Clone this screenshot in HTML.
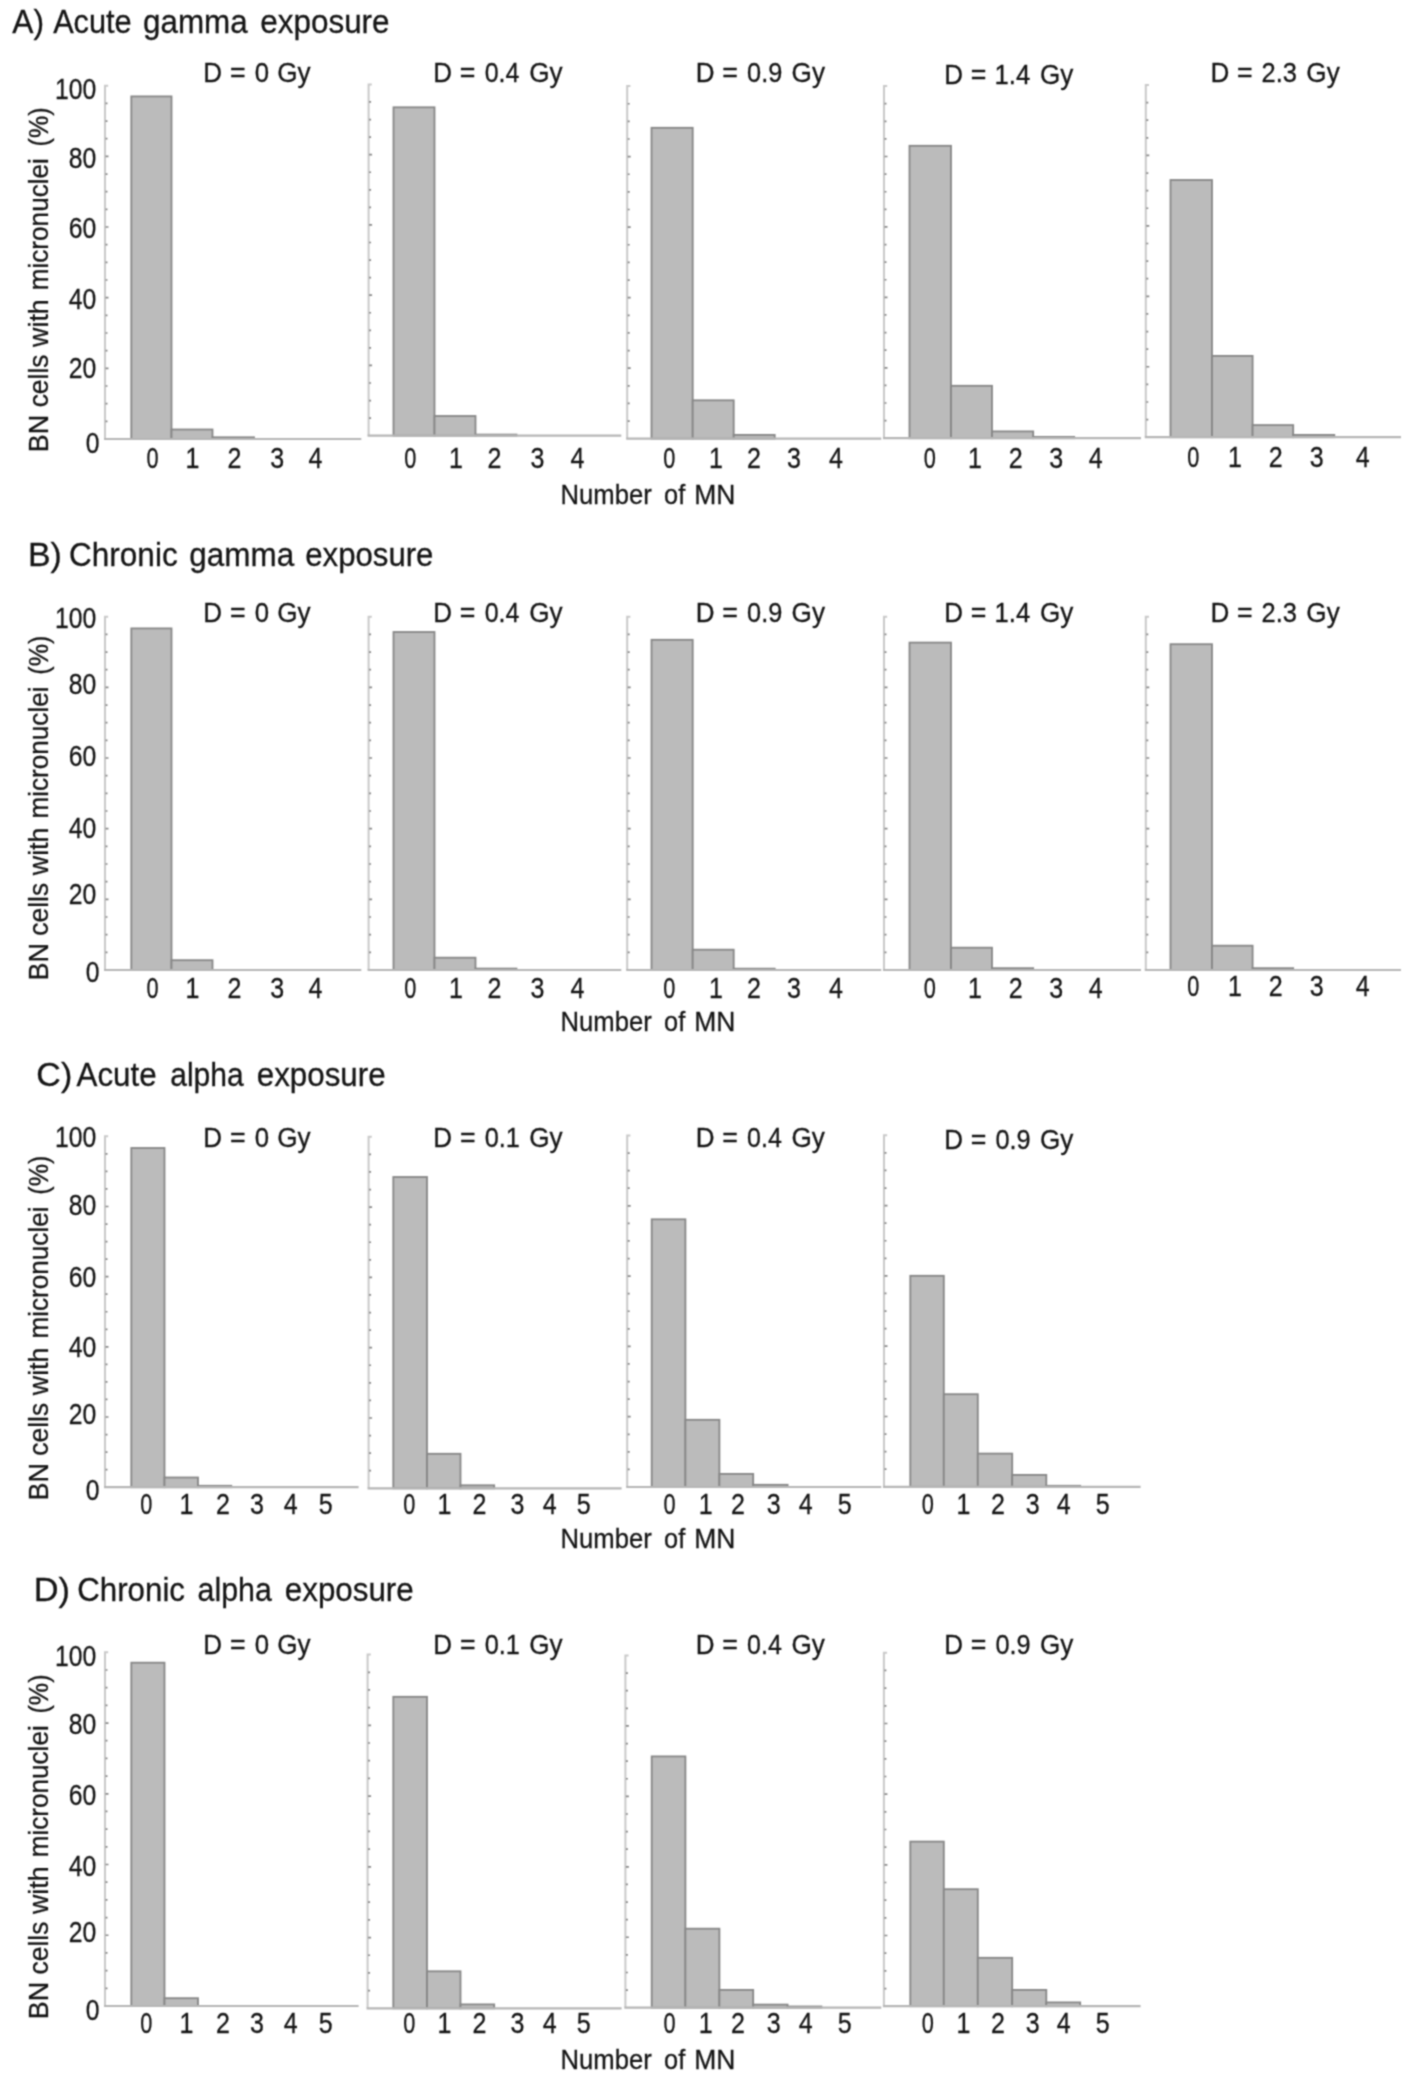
<!DOCTYPE html>
<html><head><meta charset="utf-8"><title>Micronuclei distributions</title>
<style>html,body{margin:0;padding:0;background:#fff}svg{display:block}text{font-family:"Liberation Sans", Arial, Helvetica, sans-serif;fill:#141414;stroke:#141414;stroke-width:0.3px}</style>
</head><body>
<svg width="1417" height="2080" viewBox="0 0 1417 2080">
<defs><filter id="soft" x="0" y="0" width="100%" height="100%" filterUnits="objectBoundingBox" color-interpolation-filters="sRGB"><feConvolveMatrix order="3" kernelMatrix="1 2 1 2 6 2 1 2 1" divisor="18" edgeMode="duplicate" preserveAlpha="true"/></filter></defs>
<g filter="url(#soft)">
<rect width="1417" height="2080" fill="#fff"/>
<text transform="translate(0 33.3) scale(0.9475 1)" font-size="33"><tspan x="12.91" textLength="33.49" lengthAdjust="spacingAndGlyphs">A)</tspan> <tspan x="56.08" textLength="82.88" lengthAdjust="spacingAndGlyphs">Acute</tspan> <tspan x="150.91" textLength="110.52" lengthAdjust="spacingAndGlyphs">gamma</tspan> <tspan x="274.8" textLength="136.29" lengthAdjust="spacingAndGlyphs">exposure</tspan></text>
<text transform="translate(54.95 98.7) scale(0.8200 1)" font-size="30.2">100</text>
<text transform="translate(68.72 167.6) scale(0.8200 1)" font-size="30.2">80</text>
<text transform="translate(68.72 238.3) scale(0.8200 1)" font-size="30.2">60</text>
<text transform="translate(68.72 308.7) scale(0.8200 1)" font-size="30.2">40</text>
<text transform="translate(68.72 377.5) scale(0.8200 1)" font-size="30.2">20</text>
<text transform="translate(85.79 452.6) scale(0.8200 1)" font-size="30.2">0</text>
<text transform="translate(48 450) rotate(-90) scale(0.9232 1)" font-size="28.4"><tspan x="-2.39" textLength="40.51" lengthAdjust="spacingAndGlyphs">BN</tspan> <tspan x="46.23" textLength="57.16" lengthAdjust="spacingAndGlyphs">cells</tspan> <tspan x="111.72" textLength="51.55" lengthAdjust="spacingAndGlyphs">with</tspan> <tspan x="173.05" textLength="143.08" lengthAdjust="spacingAndGlyphs">micronuclei</tspan> <tspan x="328.89" textLength="42.25" lengthAdjust="spacingAndGlyphs">(%)</tspan></text>
<rect x="131.3" y="96.4" width="40.2" height="342.6" fill="#bbbbbb" stroke="#878787" stroke-width="1.8"/>
<rect x="171.5" y="429.5" width="41" height="9.5" fill="#bbbbbb" stroke="#878787" stroke-width="1.8"/>
<rect x="212.5" y="437.3" width="41.5" height="1.7" fill="#bbbbbb" stroke="#878787" stroke-width="1.8"/>
<path d="M108.2 85.7H105V439" fill="none" stroke="#c9c9c9" stroke-width="2"/>
<path d="M104 439H361.3" fill="none" stroke="#b6b6b6" stroke-width="2.2"/>
<path d="M105.5 421.33h2.0M105.5 403.67h2.0M105.5 386h2.0M105.5 368.34h3.0M105.5 350.68h2.0M105.5 333.01h2.0M105.5 315.35h2.0M105.5 297.68h3.0M105.5 280.01h2.0M105.5 262.35h2.0M105.5 244.69h2.0M105.5 227.02h3.0M105.5 209.36h2.0M105.5 191.69h2.0M105.5 174.03h2.0M105.5 156.36h3.0M105.5 138.69h2.0M105.5 121.03h2.0M105.5 103.37h2.0" fill="none" stroke="#8a8a8a" stroke-width="1.7"/>
<text transform="translate(0 82.4) scale(0.9470 1)" font-size="27.6"><tspan x="214.75" textLength="19.83" lengthAdjust="spacingAndGlyphs">D</tspan> <tspan x="242.76" textLength="16.5" lengthAdjust="spacingAndGlyphs">=</tspan> <tspan x="268.94" textLength="15.11" lengthAdjust="spacingAndGlyphs">0</tspan> <tspan x="292.8" textLength="35.23" lengthAdjust="spacingAndGlyphs">Gy</tspan></text>
<text transform="translate(152.5 467.8) scale(0.7351 1)" font-size="29.6" text-anchor="middle">0</text>
<text transform="translate(192.4 467.8) scale(0.8450 1)" font-size="29.6" text-anchor="middle">1</text>
<text transform="translate(234.5 467.8) scale(0.8450 1)" font-size="29.6" text-anchor="middle">2</text>
<text transform="translate(277.2 467.8) scale(0.8450 1)" font-size="29.6" text-anchor="middle">3</text>
<text transform="translate(315.5 467.8) scale(0.8450 1)" font-size="29.6" text-anchor="middle">4</text>
<rect x="393.5" y="107.3" width="41" height="328.4" fill="#bbbbbb" stroke="#878787" stroke-width="1.8"/>
<rect x="434.5" y="416" width="41" height="19.7" fill="#bbbbbb" stroke="#878787" stroke-width="1.8"/>
<rect x="475.5" y="434.6" width="41" height="1.1" fill="#bbbbbb" stroke="#878787" stroke-width="1.8"/>
<path d="M371.8 84.4H368.6V435.7" fill="none" stroke="#c9c9c9" stroke-width="2"/>
<path d="M367.6 435.7H621.3" fill="none" stroke="#b6b6b6" stroke-width="2.2"/>
<path d="M369.1 418.13h2.0M369.1 400.57h2.0M369.1 383h2.0M369.1 365.44h3.0M369.1 347.88h2.0M369.1 330.31h2.0M369.1 312.75h2.0M369.1 295.18h3.0M369.1 277.62h2.0M369.1 260.05h2.0M369.1 242.49h2.0M369.1 224.92h3.0M369.1 207.36h2.0M369.1 189.79h2.0M369.1 172.23h2.0M369.1 154.66h3.0M369.1 137.1h2.0M369.1 119.53h2.0M369.1 101.97h2.0" fill="none" stroke="#8a8a8a" stroke-width="1.7"/>
<text transform="translate(0 82.4) scale(0.9342 1)" font-size="27.6"><tspan x="463.87" textLength="20.1" lengthAdjust="spacingAndGlyphs">D</tspan> <tspan x="492.26" textLength="16.72" lengthAdjust="spacingAndGlyphs">=</tspan> <tspan x="518.84" textLength="37.15" lengthAdjust="spacingAndGlyphs">0.4</tspan> <tspan x="566.43" textLength="35.71" lengthAdjust="spacingAndGlyphs">Gy</tspan></text>
<text transform="translate(410.4 467.8) scale(0.7351 1)" font-size="29.6" text-anchor="middle">0</text>
<text transform="translate(456 467.8) scale(0.8450 1)" font-size="29.6" text-anchor="middle">1</text>
<text transform="translate(494.5 467.8) scale(0.8450 1)" font-size="29.6" text-anchor="middle">2</text>
<text transform="translate(537.5 467.8) scale(0.8450 1)" font-size="29.6" text-anchor="middle">3</text>
<text transform="translate(577.5 467.8) scale(0.8450 1)" font-size="29.6" text-anchor="middle">4</text>
<rect x="651.5" y="127.8" width="41.2" height="310.9" fill="#bbbbbb" stroke="#878787" stroke-width="1.8"/>
<rect x="692.7" y="400.3" width="41" height="38.4" fill="#bbbbbb" stroke="#878787" stroke-width="1.8"/>
<rect x="733.7" y="434.9" width="41" height="3.8" fill="#bbbbbb" stroke="#878787" stroke-width="1.8"/>
<path d="M630.4 86.1H627.2V438.7" fill="none" stroke="#c9c9c9" stroke-width="2"/>
<path d="M626.2 438.7H881.3" fill="none" stroke="#b6b6b6" stroke-width="2.2"/>
<path d="M627.7 421.07h2.0M627.7 403.44h2.0M627.7 385.81h2.0M627.7 368.18h3.0M627.7 350.55h2.0M627.7 332.92h2.0M627.7 315.29h2.0M627.7 297.66h3.0M627.7 280.03h2.0M627.7 262.4h2.0M627.7 244.77h2.0M627.7 227.14h3.0M627.7 209.51h2.0M627.7 191.88h2.0M627.7 174.25h2.0M627.7 156.62h3.0M627.7 138.99h2.0M627.7 121.36h2.0M627.7 103.73h2.0" fill="none" stroke="#8a8a8a" stroke-width="1.7"/>
<text transform="translate(0 82.4) scale(0.9386 1)" font-size="27.6"><tspan x="741.27" textLength="20.01" lengthAdjust="spacingAndGlyphs">D</tspan> <tspan x="769.53" textLength="16.65" lengthAdjust="spacingAndGlyphs">=</tspan> <tspan x="795.97" textLength="37.49" lengthAdjust="spacingAndGlyphs">0.9</tspan> <tspan x="843.36" textLength="35.54" lengthAdjust="spacingAndGlyphs">Gy</tspan></text>
<text transform="translate(669.4 467.8) scale(0.7351 1)" font-size="29.6" text-anchor="middle">0</text>
<text transform="translate(716 467.8) scale(0.8450 1)" font-size="29.6" text-anchor="middle">1</text>
<text transform="translate(754 467.8) scale(0.8450 1)" font-size="29.6" text-anchor="middle">2</text>
<text transform="translate(794 467.8) scale(0.8450 1)" font-size="29.6" text-anchor="middle">3</text>
<text transform="translate(836 467.8) scale(0.8450 1)" font-size="29.6" text-anchor="middle">4</text>
<rect x="909.5" y="145.8" width="41.5" height="292.4" fill="#bbbbbb" stroke="#878787" stroke-width="1.8"/>
<rect x="951" y="385.8" width="41" height="52.4" fill="#bbbbbb" stroke="#878787" stroke-width="1.8"/>
<rect x="992" y="431.4" width="41.2" height="6.8" fill="#bbbbbb" stroke="#878787" stroke-width="1.8"/>
<rect x="1033.2" y="436.9" width="41" height="1.3" fill="#bbbbbb" stroke="#878787" stroke-width="1.8"/>
<path d="M887.2 86.1H884V438.2" fill="none" stroke="#c9c9c9" stroke-width="2"/>
<path d="M883 438.2H1141" fill="none" stroke="#b6b6b6" stroke-width="2.2"/>
<path d="M884.5 420.59h2.0M884.5 402.99h2.0M884.5 385.38h2.0M884.5 367.78h3.0M884.5 350.17h2.0M884.5 332.57h2.0M884.5 314.96h2.0M884.5 297.36h3.0M884.5 279.75h2.0M884.5 262.15h2.0M884.5 244.54h2.0M884.5 226.94h3.0M884.5 209.33h2.0M884.5 191.73h2.0M884.5 174.12h2.0M884.5 156.52h3.0M884.5 138.91h2.0M884.5 121.31h2.0M884.5 103.7h2.0" fill="none" stroke="#8a8a8a" stroke-width="1.7"/>
<text transform="translate(0 84.3) scale(0.9434 1)" font-size="27.6"><tspan x="1000.83" textLength="19.9" lengthAdjust="spacingAndGlyphs">D</tspan> <tspan x="1028.95" textLength="16.56" lengthAdjust="spacingAndGlyphs">=</tspan> <tspan x="1054.23" textLength="37.85" lengthAdjust="spacingAndGlyphs">1.4</tspan> <tspan x="1102.4" textLength="35.37" lengthAdjust="spacingAndGlyphs">Gy</tspan></text>
<text transform="translate(929.8 467.8) scale(0.7351 1)" font-size="29.6" text-anchor="middle">0</text>
<text transform="translate(975 467.8) scale(0.8450 1)" font-size="29.6" text-anchor="middle">1</text>
<text transform="translate(1015.6 467.8) scale(0.8450 1)" font-size="29.6" text-anchor="middle">2</text>
<text transform="translate(1056.2 467.8) scale(0.8450 1)" font-size="29.6" text-anchor="middle">3</text>
<text transform="translate(1095.8 467.8) scale(0.8450 1)" font-size="29.6" text-anchor="middle">4</text>
<rect x="1170.5" y="180" width="41.5" height="257.2" fill="#bbbbbb" stroke="#878787" stroke-width="1.8"/>
<rect x="1212" y="355.9" width="40.6" height="81.3" fill="#bbbbbb" stroke="#878787" stroke-width="1.8"/>
<rect x="1252.6" y="425.1" width="40.6" height="12.1" fill="#bbbbbb" stroke="#878787" stroke-width="1.8"/>
<rect x="1293.2" y="434.9" width="41.1" height="2.3" fill="#bbbbbb" stroke="#878787" stroke-width="1.8"/>
<path d="M1149 85H1145.8V437.2" fill="none" stroke="#c9c9c9" stroke-width="2"/>
<path d="M1144.8 437.2H1401" fill="none" stroke="#b6b6b6" stroke-width="2.2"/>
<path d="M1146.3 419.59h2.0M1146.3 401.98h2.0M1146.3 384.37h2.0M1146.3 366.76h3.0M1146.3 349.15h2.0M1146.3 331.54h2.0M1146.3 313.93h2.0M1146.3 296.32h3.0M1146.3 278.71h2.0M1146.3 261.1h2.0M1146.3 243.49h2.0M1146.3 225.88h3.0M1146.3 208.27h2.0M1146.3 190.66h2.0M1146.3 173.05h2.0M1146.3 155.44h3.0M1146.3 137.83h2.0M1146.3 120.22h2.0M1146.3 102.61h2.0" fill="none" stroke="#8a8a8a" stroke-width="1.7"/>
<text transform="translate(0 82.4) scale(0.9405 1)" font-size="27.6"><tspan x="1287.09" textLength="19.96" lengthAdjust="spacingAndGlyphs">D</tspan> <tspan x="1315.3" textLength="16.61" lengthAdjust="spacingAndGlyphs">=</tspan> <tspan x="1341.37" textLength="37.64" lengthAdjust="spacingAndGlyphs">2.3</tspan> <tspan x="1388.97" textLength="35.47" lengthAdjust="spacingAndGlyphs">Gy</tspan></text>
<text transform="translate(1193.4 466.6) scale(0.7351 1)" font-size="29.6" text-anchor="middle">0</text>
<text transform="translate(1235 466.6) scale(0.8450 1)" font-size="29.6" text-anchor="middle">1</text>
<text transform="translate(1275.6 466.6) scale(0.8450 1)" font-size="29.6" text-anchor="middle">2</text>
<text transform="translate(1316.7 466.6) scale(0.8450 1)" font-size="29.6" text-anchor="middle">3</text>
<text transform="translate(1362.8 466.6) scale(0.8450 1)" font-size="29.6" text-anchor="middle">4</text>
<text transform="translate(0 504) scale(0.9083 1)" font-size="28.4"><tspan x="617.18" textLength="100.32" lengthAdjust="spacingAndGlyphs">Number</tspan> <tspan x="731.16" textLength="23.26" lengthAdjust="spacingAndGlyphs">of</tspan> <tspan x="764.29" textLength="45.28" lengthAdjust="spacingAndGlyphs">MN</tspan></text>
<text transform="translate(0 566) scale(0.9563 1)" font-size="33"><tspan x="29.2" textLength="35.43" lengthAdjust="spacingAndGlyphs">B)</tspan> <tspan x="72.26" textLength="113.5" lengthAdjust="spacingAndGlyphs">Chronic</tspan> <tspan x="198.04" textLength="109.61" lengthAdjust="spacingAndGlyphs">gamma</tspan> <tspan x="319.24" textLength="133.97" lengthAdjust="spacingAndGlyphs">exposure</tspan></text>
<text transform="translate(54.95 627.8) scale(0.8200 1)" font-size="30.2">100</text>
<text transform="translate(68.72 694.4) scale(0.8200 1)" font-size="30.2">80</text>
<text transform="translate(68.72 765.6) scale(0.8200 1)" font-size="30.2">60</text>
<text transform="translate(68.72 837.5) scale(0.8200 1)" font-size="30.2">40</text>
<text transform="translate(68.72 904.3) scale(0.8200 1)" font-size="30.2">20</text>
<text transform="translate(85.79 981.7) scale(0.8200 1)" font-size="30.2">0</text>
<text transform="translate(48 978.3) rotate(-90) scale(0.9232 1)" font-size="28.4"><tspan x="-2.39" textLength="40.51" lengthAdjust="spacingAndGlyphs">BN</tspan> <tspan x="46.23" textLength="57.16" lengthAdjust="spacingAndGlyphs">cells</tspan> <tspan x="111.72" textLength="51.55" lengthAdjust="spacingAndGlyphs">with</tspan> <tspan x="173.05" textLength="143.08" lengthAdjust="spacingAndGlyphs">micronuclei</tspan> <tspan x="328.89" textLength="42.25" lengthAdjust="spacingAndGlyphs">(%)</tspan></text>
<rect x="131.3" y="628.4" width="40.2" height="341.6" fill="#bbbbbb" stroke="#878787" stroke-width="1.8"/>
<rect x="171.5" y="960.2" width="41" height="9.8" fill="#bbbbbb" stroke="#878787" stroke-width="1.8"/>
<path d="M108.2 616.7H105V970" fill="none" stroke="#c9c9c9" stroke-width="2"/>
<path d="M104 970H361.3" fill="none" stroke="#b6b6b6" stroke-width="2.2"/>
<path d="M105.5 952.34h2.0M105.5 934.67h2.0M105.5 917h2.0M105.5 899.34h3.0M105.5 881.67h2.0M105.5 864.01h2.0M105.5 846.35h2.0M105.5 828.68h3.0M105.5 811.01h2.0M105.5 793.35h2.0M105.5 775.68h2.0M105.5 758.02h3.0M105.5 740.36h2.0M105.5 722.69h2.0M105.5 705.03h2.0M105.5 687.36h3.0M105.5 669.69h2.0M105.5 652.03h2.0M105.5 634.37h2.0" fill="none" stroke="#8a8a8a" stroke-width="1.7"/>
<text transform="translate(0 621.5) scale(0.9470 1)" font-size="27.6"><tspan x="214.75" textLength="19.83" lengthAdjust="spacingAndGlyphs">D</tspan> <tspan x="242.76" textLength="16.5" lengthAdjust="spacingAndGlyphs">=</tspan> <tspan x="268.94" textLength="15.11" lengthAdjust="spacingAndGlyphs">0</tspan> <tspan x="292.8" textLength="35.23" lengthAdjust="spacingAndGlyphs">Gy</tspan></text>
<text transform="translate(152.5 997.6) scale(0.7351 1)" font-size="29.6" text-anchor="middle">0</text>
<text transform="translate(192.4 997.6) scale(0.8450 1)" font-size="29.6" text-anchor="middle">1</text>
<text transform="translate(234.5 997.6) scale(0.8450 1)" font-size="29.6" text-anchor="middle">2</text>
<text transform="translate(277.2 997.6) scale(0.8450 1)" font-size="29.6" text-anchor="middle">3</text>
<text transform="translate(315.5 997.6) scale(0.8450 1)" font-size="29.6" text-anchor="middle">4</text>
<rect x="393.5" y="632" width="41" height="338" fill="#bbbbbb" stroke="#878787" stroke-width="1.8"/>
<rect x="434.5" y="957.7" width="41" height="12.3" fill="#bbbbbb" stroke="#878787" stroke-width="1.8"/>
<rect x="475.5" y="968.6" width="41" height="1.4" fill="#bbbbbb" stroke="#878787" stroke-width="1.8"/>
<path d="M371.8 616.7H368.6V970" fill="none" stroke="#c9c9c9" stroke-width="2"/>
<path d="M367.6 970H621.3" fill="none" stroke="#b6b6b6" stroke-width="2.2"/>
<path d="M369.1 952.34h2.0M369.1 934.67h2.0M369.1 917h2.0M369.1 899.34h3.0M369.1 881.67h2.0M369.1 864.01h2.0M369.1 846.35h2.0M369.1 828.68h3.0M369.1 811.01h2.0M369.1 793.35h2.0M369.1 775.68h2.0M369.1 758.02h3.0M369.1 740.36h2.0M369.1 722.69h2.0M369.1 705.03h2.0M369.1 687.36h3.0M369.1 669.69h2.0M369.1 652.03h2.0M369.1 634.37h2.0" fill="none" stroke="#8a8a8a" stroke-width="1.7"/>
<text transform="translate(0 621.5) scale(0.9342 1)" font-size="27.6"><tspan x="463.87" textLength="20.1" lengthAdjust="spacingAndGlyphs">D</tspan> <tspan x="492.26" textLength="16.72" lengthAdjust="spacingAndGlyphs">=</tspan> <tspan x="518.84" textLength="37.15" lengthAdjust="spacingAndGlyphs">0.4</tspan> <tspan x="566.43" textLength="35.71" lengthAdjust="spacingAndGlyphs">Gy</tspan></text>
<text transform="translate(410.4 997.6) scale(0.7351 1)" font-size="29.6" text-anchor="middle">0</text>
<text transform="translate(456 997.6) scale(0.8450 1)" font-size="29.6" text-anchor="middle">1</text>
<text transform="translate(494.5 997.6) scale(0.8450 1)" font-size="29.6" text-anchor="middle">2</text>
<text transform="translate(537.5 997.6) scale(0.8450 1)" font-size="29.6" text-anchor="middle">3</text>
<text transform="translate(577.5 997.6) scale(0.8450 1)" font-size="29.6" text-anchor="middle">4</text>
<rect x="651.5" y="639.8" width="41.2" height="330.2" fill="#bbbbbb" stroke="#878787" stroke-width="1.8"/>
<rect x="692.7" y="949.7" width="41" height="20.3" fill="#bbbbbb" stroke="#878787" stroke-width="1.8"/>
<rect x="733.7" y="968.7" width="41" height="1.3" fill="#bbbbbb" stroke="#878787" stroke-width="1.8"/>
<path d="M630.4 616.7H627.2V970" fill="none" stroke="#c9c9c9" stroke-width="2"/>
<path d="M626.2 970H881.3" fill="none" stroke="#b6b6b6" stroke-width="2.2"/>
<path d="M627.7 952.34h2.0M627.7 934.67h2.0M627.7 917h2.0M627.7 899.34h3.0M627.7 881.67h2.0M627.7 864.01h2.0M627.7 846.35h2.0M627.7 828.68h3.0M627.7 811.01h2.0M627.7 793.35h2.0M627.7 775.68h2.0M627.7 758.02h3.0M627.7 740.36h2.0M627.7 722.69h2.0M627.7 705.03h2.0M627.7 687.36h3.0M627.7 669.69h2.0M627.7 652.03h2.0M627.7 634.37h2.0" fill="none" stroke="#8a8a8a" stroke-width="1.7"/>
<text transform="translate(0 621.5) scale(0.9386 1)" font-size="27.6"><tspan x="741.27" textLength="20.01" lengthAdjust="spacingAndGlyphs">D</tspan> <tspan x="769.53" textLength="16.65" lengthAdjust="spacingAndGlyphs">=</tspan> <tspan x="795.97" textLength="37.49" lengthAdjust="spacingAndGlyphs">0.9</tspan> <tspan x="843.36" textLength="35.54" lengthAdjust="spacingAndGlyphs">Gy</tspan></text>
<text transform="translate(669.4 997.6) scale(0.7351 1)" font-size="29.6" text-anchor="middle">0</text>
<text transform="translate(716 997.6) scale(0.8450 1)" font-size="29.6" text-anchor="middle">1</text>
<text transform="translate(754 997.6) scale(0.8450 1)" font-size="29.6" text-anchor="middle">2</text>
<text transform="translate(794 997.6) scale(0.8450 1)" font-size="29.6" text-anchor="middle">3</text>
<text transform="translate(836 997.6) scale(0.8450 1)" font-size="29.6" text-anchor="middle">4</text>
<rect x="909.5" y="642.6" width="41.5" height="327.4" fill="#bbbbbb" stroke="#878787" stroke-width="1.8"/>
<rect x="951" y="947.7" width="41" height="22.3" fill="#bbbbbb" stroke="#878787" stroke-width="1.8"/>
<rect x="992" y="968.2" width="41.2" height="1.8" fill="#bbbbbb" stroke="#878787" stroke-width="1.8"/>
<path d="M887.2 616.7H884V970" fill="none" stroke="#c9c9c9" stroke-width="2"/>
<path d="M883 970H1141" fill="none" stroke="#b6b6b6" stroke-width="2.2"/>
<path d="M884.5 952.34h2.0M884.5 934.67h2.0M884.5 917h2.0M884.5 899.34h3.0M884.5 881.67h2.0M884.5 864.01h2.0M884.5 846.35h2.0M884.5 828.68h3.0M884.5 811.01h2.0M884.5 793.35h2.0M884.5 775.68h2.0M884.5 758.02h3.0M884.5 740.36h2.0M884.5 722.69h2.0M884.5 705.03h2.0M884.5 687.36h3.0M884.5 669.69h2.0M884.5 652.03h2.0M884.5 634.37h2.0" fill="none" stroke="#8a8a8a" stroke-width="1.7"/>
<text transform="translate(0 621.5) scale(0.9434 1)" font-size="27.6"><tspan x="1000.83" textLength="19.9" lengthAdjust="spacingAndGlyphs">D</tspan> <tspan x="1028.95" textLength="16.56" lengthAdjust="spacingAndGlyphs">=</tspan> <tspan x="1054.23" textLength="37.85" lengthAdjust="spacingAndGlyphs">1.4</tspan> <tspan x="1102.4" textLength="35.37" lengthAdjust="spacingAndGlyphs">Gy</tspan></text>
<text transform="translate(929.8 997.6) scale(0.7351 1)" font-size="29.6" text-anchor="middle">0</text>
<text transform="translate(975 997.6) scale(0.8450 1)" font-size="29.6" text-anchor="middle">1</text>
<text transform="translate(1015.6 997.6) scale(0.8450 1)" font-size="29.6" text-anchor="middle">2</text>
<text transform="translate(1056.2 997.6) scale(0.8450 1)" font-size="29.6" text-anchor="middle">3</text>
<text transform="translate(1095.8 997.6) scale(0.8450 1)" font-size="29.6" text-anchor="middle">4</text>
<rect x="1170.5" y="644.2" width="41.5" height="325.8" fill="#bbbbbb" stroke="#878787" stroke-width="1.8"/>
<rect x="1212" y="945.7" width="40.6" height="24.3" fill="#bbbbbb" stroke="#878787" stroke-width="1.8"/>
<rect x="1252.6" y="968.2" width="40.6" height="1.8" fill="#bbbbbb" stroke="#878787" stroke-width="1.8"/>
<path d="M1149 616.7H1145.8V970" fill="none" stroke="#c9c9c9" stroke-width="2"/>
<path d="M1144.8 970H1401" fill="none" stroke="#b6b6b6" stroke-width="2.2"/>
<path d="M1146.3 952.34h2.0M1146.3 934.67h2.0M1146.3 917h2.0M1146.3 899.34h3.0M1146.3 881.67h2.0M1146.3 864.01h2.0M1146.3 846.35h2.0M1146.3 828.68h3.0M1146.3 811.01h2.0M1146.3 793.35h2.0M1146.3 775.68h2.0M1146.3 758.02h3.0M1146.3 740.36h2.0M1146.3 722.69h2.0M1146.3 705.03h2.0M1146.3 687.36h3.0M1146.3 669.69h2.0M1146.3 652.03h2.0M1146.3 634.37h2.0" fill="none" stroke="#8a8a8a" stroke-width="1.7"/>
<text transform="translate(0 621.5) scale(0.9405 1)" font-size="27.6"><tspan x="1287.09" textLength="19.96" lengthAdjust="spacingAndGlyphs">D</tspan> <tspan x="1315.3" textLength="16.61" lengthAdjust="spacingAndGlyphs">=</tspan> <tspan x="1341.37" textLength="37.64" lengthAdjust="spacingAndGlyphs">2.3</tspan> <tspan x="1388.97" textLength="35.47" lengthAdjust="spacingAndGlyphs">Gy</tspan></text>
<text transform="translate(1193.4 995.6) scale(0.7351 1)" font-size="29.6" text-anchor="middle">0</text>
<text transform="translate(1235 995.6) scale(0.8450 1)" font-size="29.6" text-anchor="middle">1</text>
<text transform="translate(1275.6 995.6) scale(0.8450 1)" font-size="29.6" text-anchor="middle">2</text>
<text transform="translate(1316.7 995.6) scale(0.8450 1)" font-size="29.6" text-anchor="middle">3</text>
<text transform="translate(1362.8 995.6) scale(0.8450 1)" font-size="29.6" text-anchor="middle">4</text>
<text transform="translate(0 1031) scale(0.9083 1)" font-size="28.4"><tspan x="617.18" textLength="100.32" lengthAdjust="spacingAndGlyphs">Number</tspan> <tspan x="731.16" textLength="23.26" lengthAdjust="spacingAndGlyphs">of</tspan> <tspan x="764.29" textLength="45.28" lengthAdjust="spacingAndGlyphs">MN</tspan></text>
<text transform="translate(0 1085.7) scale(0.9481 1)" font-size="33"><tspan x="38.37" textLength="37.79" lengthAdjust="spacingAndGlyphs">C)</tspan> <tspan x="80.73" textLength="84.54" lengthAdjust="spacingAndGlyphs">Acute</tspan> <tspan x="179.54" textLength="77.5" lengthAdjust="spacingAndGlyphs">alpha</tspan> <tspan x="270.82" textLength="135.88" lengthAdjust="spacingAndGlyphs">exposure</tspan></text>
<text transform="translate(54.95 1146.6) scale(0.8200 1)" font-size="30.2">100</text>
<text transform="translate(68.72 1215.4) scale(0.8200 1)" font-size="30.2">80</text>
<text transform="translate(68.72 1286.5) scale(0.8200 1)" font-size="30.2">60</text>
<text transform="translate(68.72 1357) scale(0.8200 1)" font-size="30.2">40</text>
<text transform="translate(68.72 1423.8) scale(0.8200 1)" font-size="30.2">20</text>
<text transform="translate(85.79 1500.3) scale(0.8200 1)" font-size="30.2">0</text>
<text transform="translate(48 1498.3) rotate(-90) scale(0.9232 1)" font-size="28.4"><tspan x="-2.39" textLength="40.51" lengthAdjust="spacingAndGlyphs">BN</tspan> <tspan x="46.23" textLength="57.16" lengthAdjust="spacingAndGlyphs">cells</tspan> <tspan x="111.72" textLength="51.55" lengthAdjust="spacingAndGlyphs">with</tspan> <tspan x="173.05" textLength="143.08" lengthAdjust="spacingAndGlyphs">micronuclei</tspan> <tspan x="328.89" textLength="42.25" lengthAdjust="spacingAndGlyphs">(%)</tspan></text>
<rect x="131.3" y="1148" width="33.2" height="339.2" fill="#bbbbbb" stroke="#878787" stroke-width="1.8"/>
<rect x="164.5" y="1477.5" width="33.5" height="9.7" fill="#bbbbbb" stroke="#878787" stroke-width="1.8"/>
<rect x="198" y="1485.8" width="33.3" height="1.4" fill="#bbbbbb" stroke="#878787" stroke-width="1.8"/>
<path d="M108.2 1136.3H105V1487.2" fill="none" stroke="#c9c9c9" stroke-width="2"/>
<path d="M104 1487.2H358.6" fill="none" stroke="#b6b6b6" stroke-width="2.2"/>
<path d="M105.5 1469.65h2.0M105.5 1452.11h2.0M105.5 1434.57h2.0M105.5 1417.02h3.0M105.5 1399.47h2.0M105.5 1381.93h2.0M105.5 1364.38h2.0M105.5 1346.84h3.0M105.5 1329.3h2.0M105.5 1311.75h2.0M105.5 1294.2h2.0M105.5 1276.66h3.0M105.5 1259.12h2.0M105.5 1241.57h2.0M105.5 1224.03h2.0M105.5 1206.48h3.0M105.5 1188.93h2.0M105.5 1171.39h2.0M105.5 1153.85h2.0" fill="none" stroke="#8a8a8a" stroke-width="1.7"/>
<text transform="translate(0 1146.7) scale(0.9470 1)" font-size="27.6"><tspan x="214.75" textLength="19.83" lengthAdjust="spacingAndGlyphs">D</tspan> <tspan x="242.76" textLength="16.5" lengthAdjust="spacingAndGlyphs">=</tspan> <tspan x="268.94" textLength="15.11" lengthAdjust="spacingAndGlyphs">0</tspan> <tspan x="292.8" textLength="35.23" lengthAdjust="spacingAndGlyphs">Gy</tspan></text>
<text transform="translate(146.2 1514.2) scale(0.7351 1)" font-size="29.6" text-anchor="middle">0</text>
<text transform="translate(186.4 1514.2) scale(0.8450 1)" font-size="29.6" text-anchor="middle">1</text>
<text transform="translate(223 1514.2) scale(0.8450 1)" font-size="29.6" text-anchor="middle">2</text>
<text transform="translate(257 1514.2) scale(0.8450 1)" font-size="29.6" text-anchor="middle">3</text>
<text transform="translate(290.6 1514.2) scale(0.8450 1)" font-size="29.6" text-anchor="middle">4</text>
<text transform="translate(325.7 1514.2) scale(0.8450 1)" font-size="29.6" text-anchor="middle">5</text>
<rect x="393.3" y="1177" width="33.7" height="311.3" fill="#bbbbbb" stroke="#878787" stroke-width="1.8"/>
<rect x="427" y="1453.8" width="33.5" height="34.5" fill="#bbbbbb" stroke="#878787" stroke-width="1.8"/>
<rect x="460.5" y="1485.3" width="33.7" height="3" fill="#bbbbbb" stroke="#878787" stroke-width="1.8"/>
<path d="M371.8 1136.8H368.6V1488.3" fill="none" stroke="#c9c9c9" stroke-width="2"/>
<path d="M367.6 1488.3H621.6" fill="none" stroke="#b6b6b6" stroke-width="2.2"/>
<path d="M369.1 1470.72h2.0M369.1 1453.15h2.0M369.1 1435.58h2.0M369.1 1418h3.0M369.1 1400.42h2.0M369.1 1382.85h2.0M369.1 1365.27h2.0M369.1 1347.7h3.0M369.1 1330.12h2.0M369.1 1312.55h2.0M369.1 1294.97h2.0M369.1 1277.4h3.0M369.1 1259.83h2.0M369.1 1242.25h2.0M369.1 1224.67h2.0M369.1 1207.1h3.0M369.1 1189.53h2.0M369.1 1171.95h2.0M369.1 1154.38h2.0" fill="none" stroke="#8a8a8a" stroke-width="1.7"/>
<text transform="translate(0 1146.7) scale(0.9390 1)" font-size="27.6"><tspan x="461.53" textLength="20" lengthAdjust="spacingAndGlyphs">D</tspan> <tspan x="489.78" textLength="16.64" lengthAdjust="spacingAndGlyphs">=</tspan> <tspan x="516.21" textLength="37.52" lengthAdjust="spacingAndGlyphs">0.1</tspan> <tspan x="563.57" textLength="35.53" lengthAdjust="spacingAndGlyphs">Gy</tspan></text>
<text transform="translate(409.2 1514.2) scale(0.7351 1)" font-size="29.6" text-anchor="middle">0</text>
<text transform="translate(444.4 1514.2) scale(0.8450 1)" font-size="29.6" text-anchor="middle">1</text>
<text transform="translate(479.5 1514.2) scale(0.8450 1)" font-size="29.6" text-anchor="middle">2</text>
<text transform="translate(517.5 1514.2) scale(0.8450 1)" font-size="29.6" text-anchor="middle">3</text>
<text transform="translate(549.6 1514.2) scale(0.8450 1)" font-size="29.6" text-anchor="middle">4</text>
<text transform="translate(583.7 1514.2) scale(0.8450 1)" font-size="29.6" text-anchor="middle">5</text>
<rect x="651.7" y="1219.3" width="33.7" height="267.7" fill="#bbbbbb" stroke="#878787" stroke-width="1.8"/>
<rect x="685.4" y="1419.8" width="34" height="67.2" fill="#bbbbbb" stroke="#878787" stroke-width="1.8"/>
<rect x="719.4" y="1473.9" width="33.8" height="13.1" fill="#bbbbbb" stroke="#878787" stroke-width="1.8"/>
<rect x="753.2" y="1484.8" width="34.4" height="2.2" fill="#bbbbbb" stroke="#878787" stroke-width="1.8"/>
<path d="M630.4 1135.5H627.2V1487" fill="none" stroke="#c9c9c9" stroke-width="2"/>
<path d="M626.2 1487H881.3" fill="none" stroke="#b6b6b6" stroke-width="2.2"/>
<path d="M627.7 1469.42h2.0M627.7 1451.85h2.0M627.7 1434.28h2.0M627.7 1416.7h3.0M627.7 1399.12h2.0M627.7 1381.55h2.0M627.7 1363.97h2.0M627.7 1346.4h3.0M627.7 1328.83h2.0M627.7 1311.25h2.0M627.7 1293.67h2.0M627.7 1276.1h3.0M627.7 1258.53h2.0M627.7 1240.95h2.0M627.7 1223.38h2.0M627.7 1205.8h3.0M627.7 1188.22h2.0M627.7 1170.65h2.0M627.7 1153.08h2.0" fill="none" stroke="#8a8a8a" stroke-width="1.7"/>
<text transform="translate(0 1146.7) scale(0.9342 1)" font-size="27.6"><tspan x="744.74" textLength="20.1" lengthAdjust="spacingAndGlyphs">D</tspan> <tspan x="773.13" textLength="16.72" lengthAdjust="spacingAndGlyphs">=</tspan> <tspan x="799.71" textLength="37.15" lengthAdjust="spacingAndGlyphs">0.4</tspan> <tspan x="847.3" textLength="35.71" lengthAdjust="spacingAndGlyphs">Gy</tspan></text>
<text transform="translate(669.6 1514.2) scale(0.7351 1)" font-size="29.6" text-anchor="middle">0</text>
<text transform="translate(705.6 1514.2) scale(0.8450 1)" font-size="29.6" text-anchor="middle">1</text>
<text transform="translate(738 1514.2) scale(0.8450 1)" font-size="29.6" text-anchor="middle">2</text>
<text transform="translate(773.8 1514.2) scale(0.8450 1)" font-size="29.6" text-anchor="middle">3</text>
<text transform="translate(805.7 1514.2) scale(0.8450 1)" font-size="29.6" text-anchor="middle">4</text>
<text transform="translate(844.8 1514.2) scale(0.8450 1)" font-size="29.6" text-anchor="middle">5</text>
<rect x="910.3" y="1275.8" width="33.5" height="211" fill="#bbbbbb" stroke="#878787" stroke-width="1.8"/>
<rect x="943.8" y="1394.2" width="34" height="92.6" fill="#bbbbbb" stroke="#878787" stroke-width="1.8"/>
<rect x="977.8" y="1453.6" width="34.4" height="33.2" fill="#bbbbbb" stroke="#878787" stroke-width="1.8"/>
<rect x="1012.2" y="1474.9" width="34.1" height="11.9" fill="#bbbbbb" stroke="#878787" stroke-width="1.8"/>
<rect x="1046.3" y="1485.8" width="33.9" height="1" fill="#bbbbbb" stroke="#878787" stroke-width="1.8"/>
<path d="M887.2 1135.3H884V1486.8" fill="none" stroke="#c9c9c9" stroke-width="2"/>
<path d="M883 1486.8H1140.6" fill="none" stroke="#b6b6b6" stroke-width="2.2"/>
<path d="M884.5 1469.22h2.0M884.5 1451.65h2.0M884.5 1434.08h2.0M884.5 1416.5h3.0M884.5 1398.92h2.0M884.5 1381.35h2.0M884.5 1363.77h2.0M884.5 1346.2h3.0M884.5 1328.62h2.0M884.5 1311.05h2.0M884.5 1293.47h2.0M884.5 1275.9h3.0M884.5 1258.33h2.0M884.5 1240.75h2.0M884.5 1223.17h2.0M884.5 1205.6h3.0M884.5 1188.03h2.0M884.5 1170.45h2.0M884.5 1152.88h2.0" fill="none" stroke="#8a8a8a" stroke-width="1.7"/>
<text transform="translate(0 1149.2) scale(0.9386 1)" font-size="27.6"><tspan x="1005.92" textLength="20.01" lengthAdjust="spacingAndGlyphs">D</tspan> <tspan x="1034.18" textLength="16.65" lengthAdjust="spacingAndGlyphs">=</tspan> <tspan x="1060.62" textLength="37.49" lengthAdjust="spacingAndGlyphs">0.9</tspan> <tspan x="1108" textLength="35.54" lengthAdjust="spacingAndGlyphs">Gy</tspan></text>
<text transform="translate(927.8 1514.2) scale(0.7351 1)" font-size="29.6" text-anchor="middle">0</text>
<text transform="translate(963.5 1514.2) scale(0.8450 1)" font-size="29.6" text-anchor="middle">1</text>
<text transform="translate(998 1514.2) scale(0.8450 1)" font-size="29.6" text-anchor="middle">2</text>
<text transform="translate(1032.7 1514.2) scale(0.8450 1)" font-size="29.6" text-anchor="middle">3</text>
<text transform="translate(1063.7 1514.2) scale(0.8450 1)" font-size="29.6" text-anchor="middle">4</text>
<text transform="translate(1102.8 1514.2) scale(0.8450 1)" font-size="29.6" text-anchor="middle">5</text>
<text transform="translate(0 1548.2) scale(0.9083 1)" font-size="28.4"><tspan x="617.18" textLength="100.32" lengthAdjust="spacingAndGlyphs">Number</tspan> <tspan x="731.16" textLength="23.26" lengthAdjust="spacingAndGlyphs">of</tspan> <tspan x="764.29" textLength="45.28" lengthAdjust="spacingAndGlyphs">MN</tspan></text>
<text transform="translate(0 1600.7) scale(0.9511 1)" font-size="33"><tspan x="35.52" textLength="38.11" lengthAdjust="spacingAndGlyphs">D)</tspan> <tspan x="81.18" textLength="113.36" lengthAdjust="spacingAndGlyphs">Chronic</tspan> <tspan x="207.77" textLength="78.11" lengthAdjust="spacingAndGlyphs">alpha</tspan> <tspan x="299.52" textLength="135.45" lengthAdjust="spacingAndGlyphs">exposure</tspan></text>
<text transform="translate(54.95 1665.7) scale(0.8200 1)" font-size="30.2">100</text>
<text transform="translate(68.72 1734.2) scale(0.8200 1)" font-size="30.2">80</text>
<text transform="translate(68.72 1804.9) scale(0.8200 1)" font-size="30.2">60</text>
<text transform="translate(68.72 1875.7) scale(0.8200 1)" font-size="30.2">40</text>
<text transform="translate(68.72 1942.4) scale(0.8200 1)" font-size="30.2">20</text>
<text transform="translate(85.79 2019.6) scale(0.8200 1)" font-size="30.2">0</text>
<text transform="translate(48 2017.1) rotate(-90) scale(0.9232 1)" font-size="28.4"><tspan x="-2.39" textLength="40.51" lengthAdjust="spacingAndGlyphs">BN</tspan> <tspan x="46.23" textLength="57.16" lengthAdjust="spacingAndGlyphs">cells</tspan> <tspan x="111.72" textLength="51.55" lengthAdjust="spacingAndGlyphs">with</tspan> <tspan x="173.05" textLength="143.08" lengthAdjust="spacingAndGlyphs">micronuclei</tspan> <tspan x="328.89" textLength="42.25" lengthAdjust="spacingAndGlyphs">(%)</tspan></text>
<rect x="131.3" y="1662.7" width="33.2" height="343.3" fill="#bbbbbb" stroke="#878787" stroke-width="1.8"/>
<rect x="164.5" y="1998.2" width="33.5" height="7.8" fill="#bbbbbb" stroke="#878787" stroke-width="1.8"/>
<path d="M108.2 1652.3H105V2006" fill="none" stroke="#c9c9c9" stroke-width="2"/>
<path d="M104 2006H358.6" fill="none" stroke="#b6b6b6" stroke-width="2.2"/>
<path d="M105.5 1988.32h2.0M105.5 1970.63h2.0M105.5 1952.94h2.0M105.5 1935.26h3.0M105.5 1917.58h2.0M105.5 1899.89h2.0M105.5 1882.2h2.0M105.5 1864.52h3.0M105.5 1846.84h2.0M105.5 1829.15h2.0M105.5 1811.46h2.0M105.5 1793.78h3.0M105.5 1776.1h2.0M105.5 1758.41h2.0M105.5 1740.72h2.0M105.5 1723.04h3.0M105.5 1705.36h2.0M105.5 1687.67h2.0M105.5 1669.98h2.0" fill="none" stroke="#8a8a8a" stroke-width="1.7"/>
<text transform="translate(0 1653.5) scale(0.9470 1)" font-size="27.6"><tspan x="214.75" textLength="19.83" lengthAdjust="spacingAndGlyphs">D</tspan> <tspan x="242.76" textLength="16.5" lengthAdjust="spacingAndGlyphs">=</tspan> <tspan x="268.94" textLength="15.11" lengthAdjust="spacingAndGlyphs">0</tspan> <tspan x="292.8" textLength="35.23" lengthAdjust="spacingAndGlyphs">Gy</tspan></text>
<text transform="translate(146.2 2033.4) scale(0.7351 1)" font-size="29.6" text-anchor="middle">0</text>
<text transform="translate(186.4 2033.4) scale(0.8450 1)" font-size="29.6" text-anchor="middle">1</text>
<text transform="translate(223 2033.4) scale(0.8450 1)" font-size="29.6" text-anchor="middle">2</text>
<text transform="translate(257 2033.4) scale(0.8450 1)" font-size="29.6" text-anchor="middle">3</text>
<text transform="translate(290.6 2033.4) scale(0.8450 1)" font-size="29.6" text-anchor="middle">4</text>
<text transform="translate(325.7 2033.4) scale(0.8450 1)" font-size="29.6" text-anchor="middle">5</text>
<rect x="393.3" y="1696.8" width="33.7" height="311.5" fill="#bbbbbb" stroke="#878787" stroke-width="1.8"/>
<rect x="427" y="1971.3" width="33.5" height="37" fill="#bbbbbb" stroke="#878787" stroke-width="1.8"/>
<rect x="460.5" y="2004.4" width="33.7" height="3.9" fill="#bbbbbb" stroke="#878787" stroke-width="1.8"/>
<path d="M370.8 1654.6H367.6V2008.3" fill="none" stroke="#c9c9c9" stroke-width="2"/>
<path d="M366.6 2008.3H621.6" fill="none" stroke="#b6b6b6" stroke-width="2.2"/>
<path d="M368.1 1990.62h2.0M368.1 1972.93h2.0M368.1 1955.24h2.0M368.1 1937.56h3.0M368.1 1919.88h2.0M368.1 1902.19h2.0M368.1 1884.5h2.0M368.1 1866.82h3.0M368.1 1849.13h2.0M368.1 1831.45h2.0M368.1 1813.76h2.0M368.1 1796.08h3.0M368.1 1778.39h2.0M368.1 1760.71h2.0M368.1 1743.02h2.0M368.1 1725.34h3.0M368.1 1707.65h2.0M368.1 1689.97h2.0M368.1 1672.28h2.0" fill="none" stroke="#8a8a8a" stroke-width="1.7"/>
<text transform="translate(0 1653.5) scale(0.9390 1)" font-size="27.6"><tspan x="461.53" textLength="20" lengthAdjust="spacingAndGlyphs">D</tspan> <tspan x="489.78" textLength="16.64" lengthAdjust="spacingAndGlyphs">=</tspan> <tspan x="516.21" textLength="37.52" lengthAdjust="spacingAndGlyphs">0.1</tspan> <tspan x="563.57" textLength="35.53" lengthAdjust="spacingAndGlyphs">Gy</tspan></text>
<text transform="translate(409.2 2033.4) scale(0.7351 1)" font-size="29.6" text-anchor="middle">0</text>
<text transform="translate(444.4 2033.4) scale(0.8450 1)" font-size="29.6" text-anchor="middle">1</text>
<text transform="translate(479.5 2033.4) scale(0.8450 1)" font-size="29.6" text-anchor="middle">2</text>
<text transform="translate(517.5 2033.4) scale(0.8450 1)" font-size="29.6" text-anchor="middle">3</text>
<text transform="translate(549.6 2033.4) scale(0.8450 1)" font-size="29.6" text-anchor="middle">4</text>
<text transform="translate(583.7 2033.4) scale(0.8450 1)" font-size="29.6" text-anchor="middle">5</text>
<rect x="651.7" y="1756.4" width="33.7" height="251.3" fill="#bbbbbb" stroke="#878787" stroke-width="1.8"/>
<rect x="685.4" y="1928.7" width="34" height="79" fill="#bbbbbb" stroke="#878787" stroke-width="1.8"/>
<rect x="719.4" y="1989.9" width="33.8" height="17.8" fill="#bbbbbb" stroke="#878787" stroke-width="1.8"/>
<rect x="753.2" y="2004.6" width="34.4" height="3.1" fill="#bbbbbb" stroke="#878787" stroke-width="1.8"/>
<rect x="787.6" y="2006.5" width="33.8" height="1.2" fill="#bbbbbb" stroke="#878787" stroke-width="1.8"/>
<path d="M628.6 1655.5H625.4V2007.7" fill="none" stroke="#c9c9c9" stroke-width="2"/>
<path d="M624.4 2007.7H881.3" fill="none" stroke="#b6b6b6" stroke-width="2.2"/>
<path d="M625.9 1990.09h2.0M625.9 1972.48h2.0M625.9 1954.87h2.0M625.9 1937.26h3.0M625.9 1919.65h2.0M625.9 1902.04h2.0M625.9 1884.43h2.0M625.9 1866.82h3.0M625.9 1849.21h2.0M625.9 1831.6h2.0M625.9 1813.99h2.0M625.9 1796.38h3.0M625.9 1778.77h2.0M625.9 1761.16h2.0M625.9 1743.55h2.0M625.9 1725.94h3.0M625.9 1708.33h2.0M625.9 1690.72h2.0M625.9 1673.11h2.0" fill="none" stroke="#8a8a8a" stroke-width="1.7"/>
<text transform="translate(0 1653.5) scale(0.9342 1)" font-size="27.6"><tspan x="744.74" textLength="20.1" lengthAdjust="spacingAndGlyphs">D</tspan> <tspan x="773.13" textLength="16.72" lengthAdjust="spacingAndGlyphs">=</tspan> <tspan x="799.71" textLength="37.15" lengthAdjust="spacingAndGlyphs">0.4</tspan> <tspan x="847.3" textLength="35.71" lengthAdjust="spacingAndGlyphs">Gy</tspan></text>
<text transform="translate(669.6 2033.4) scale(0.7351 1)" font-size="29.6" text-anchor="middle">0</text>
<text transform="translate(705.6 2033.4) scale(0.8450 1)" font-size="29.6" text-anchor="middle">1</text>
<text transform="translate(738 2033.4) scale(0.8450 1)" font-size="29.6" text-anchor="middle">2</text>
<text transform="translate(773.8 2033.4) scale(0.8450 1)" font-size="29.6" text-anchor="middle">3</text>
<text transform="translate(805.7 2033.4) scale(0.8450 1)" font-size="29.6" text-anchor="middle">4</text>
<text transform="translate(844.8 2033.4) scale(0.8450 1)" font-size="29.6" text-anchor="middle">5</text>
<rect x="910.3" y="1841.6" width="33.5" height="164.6" fill="#bbbbbb" stroke="#878787" stroke-width="1.8"/>
<rect x="943.8" y="1889.2" width="34" height="117" fill="#bbbbbb" stroke="#878787" stroke-width="1.8"/>
<rect x="977.8" y="1957.8" width="34.4" height="48.4" fill="#bbbbbb" stroke="#878787" stroke-width="1.8"/>
<rect x="1012.2" y="1989.9" width="34.1" height="16.3" fill="#bbbbbb" stroke="#878787" stroke-width="1.8"/>
<rect x="1046.3" y="2002.4" width="33.9" height="3.8" fill="#bbbbbb" stroke="#878787" stroke-width="1.8"/>
<path d="M887.1 1652.8H883.9V2006.2" fill="none" stroke="#c9c9c9" stroke-width="2"/>
<path d="M882.9 2006.2H1140.6" fill="none" stroke="#b6b6b6" stroke-width="2.2"/>
<path d="M884.4 1988.53h2.0M884.4 1970.86h2.0M884.4 1953.19h2.0M884.4 1935.52h3.0M884.4 1917.85h2.0M884.4 1900.18h2.0M884.4 1882.51h2.0M884.4 1864.84h3.0M884.4 1847.17h2.0M884.4 1829.5h2.0M884.4 1811.83h2.0M884.4 1794.16h3.0M884.4 1776.49h2.0M884.4 1758.82h2.0M884.4 1741.15h2.0M884.4 1723.48h3.0M884.4 1705.81h2.0M884.4 1688.14h2.0M884.4 1670.47h2.0" fill="none" stroke="#8a8a8a" stroke-width="1.7"/>
<text transform="translate(0 1653.5) scale(0.9386 1)" font-size="27.6"><tspan x="1005.92" textLength="20.01" lengthAdjust="spacingAndGlyphs">D</tspan> <tspan x="1034.18" textLength="16.65" lengthAdjust="spacingAndGlyphs">=</tspan> <tspan x="1060.62" textLength="37.49" lengthAdjust="spacingAndGlyphs">0.9</tspan> <tspan x="1108" textLength="35.54" lengthAdjust="spacingAndGlyphs">Gy</tspan></text>
<text transform="translate(927.8 2033.4) scale(0.7351 1)" font-size="29.6" text-anchor="middle">0</text>
<text transform="translate(963.5 2033.4) scale(0.8450 1)" font-size="29.6" text-anchor="middle">1</text>
<text transform="translate(998 2033.4) scale(0.8450 1)" font-size="29.6" text-anchor="middle">2</text>
<text transform="translate(1032.7 2033.4) scale(0.8450 1)" font-size="29.6" text-anchor="middle">3</text>
<text transform="translate(1063.7 2033.4) scale(0.8450 1)" font-size="29.6" text-anchor="middle">4</text>
<text transform="translate(1102.8 2033.4) scale(0.8450 1)" font-size="29.6" text-anchor="middle">5</text>
<text transform="translate(0 2069.2) scale(0.9083 1)" font-size="28.4"><tspan x="617.18" textLength="100.32" lengthAdjust="spacingAndGlyphs">Number</tspan> <tspan x="731.16" textLength="23.26" lengthAdjust="spacingAndGlyphs">of</tspan> <tspan x="764.29" textLength="45.28" lengthAdjust="spacingAndGlyphs">MN</tspan></text>
</g>
</svg>
</body></html>
